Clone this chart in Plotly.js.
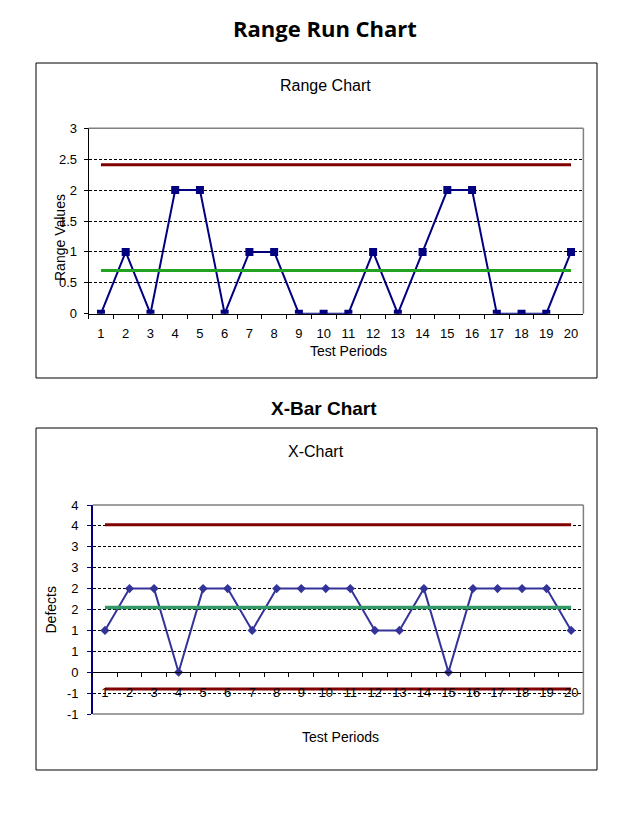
<!DOCTYPE html>
<html><head><meta charset="utf-8">
<script src="https://cdn.plot.ly/plotly-3.0.1.min.js"></script>
<style>html,body{margin:0;padding:0;background:#fff}#chart{width:640px;height:827px}</style>
</head><body><div id="chart"></div>
<script>
// ---- data ----
const periods = ['1','2','3','4','5','6','7','8','9','10','11','12','13','14','15','16','17','18','19','20'];
const rangeValues = [0,1,0,2,2,0,1,1,0,0,0,1,0,1,2,2,0,0,0,1];
const rangeUCL = 2.41;
const rangeMean = 0.7;
const defectValues = [1,2,2,0,2,2,1,2,2,2,2,1,1,2,0,2,2,2,2,1];
const defectUCL = 3.53;
const defectMean = 1.55;
const defectLCL = -0.40;
const defectTickVals = [-1,-0.5,0,0.5,1,1.5,2,2.5,3,3.5,4];
const defectTickText = ['-1','-1','0','1','1','2','2','3','3','4','4'];

const F = 'Liberation Sans, Arial, sans-serif';
const first = periods[0], last = periods[periods.length-1];

const traces = [
  {x: periods, y: rangeValues, xaxis:'x', yaxis:'y', mode:'lines+markers',
   line:{color:'#000080', width:2}, marker:{symbol:'square', size:8, color:'#000080'}},
  {x:[first,last], y:[rangeUCL,rangeUCL], xaxis:'x', yaxis:'y', mode:'lines',
   line:{color:'#800000', width:3}},
  {x:[first,last], y:[rangeMean,rangeMean], xaxis:'x', yaxis:'y', mode:'lines',
   line:{color:'#22a322', width:3}},
  {x: periods, y: defectValues, xaxis:'x2', yaxis:'y2', mode:'lines+markers',
   line:{color:'#333399', width:2}, marker:{symbol:'diamond', size:7, color:'#333399'}},
  {x:[first,last], y:[defectUCL,defectUCL], xaxis:'x2', yaxis:'y2', mode:'lines',
   line:{color:'#800000', width:3}},
  {x:[first,last], y:[defectMean,defectMean], xaxis:'x2', yaxis:'y2', mode:'lines',
   line:{color:'#339966', width:3.5}},
  {x:[first,last], y:[defectLCL,defectLCL], xaxis:'x2', yaxis:'y2', mode:'lines',
   line:{color:'#800000', width:3}}
];

const px = v => v/640, py = v => 1 - v/827;

const xCommon = {type:'category', categoryarray: periods, range:[-0.5,19.5], tickson:'boundaries',
  ticks:'outside', ticklen:4, tickcolor:'#000', showline:true, linecolor:'#000', linewidth:1,
  showgrid:false, zeroline:false, tickfont:{family:F, size:13, color:'#000'}, fixedrange:true};

const ann = (text, x, y, size, extra) => Object.assign({text, xref:'paper', yref:'paper', x:px(x), y:py(y),
  xanchor:'center', yanchor:'middle', showarrow:false, font:{family:F, size, color:'#000'}}, extra || {});

const layout = {
  width:640, height:827, margin:{l:0,r:0,t:0,b:0}, showlegend:false,
  paper_bgcolor:'#fff', plot_bgcolor:'#fff', font:{family:F, color:'#000'},
  xaxis: Object.assign({}, xCommon, {domain:[px(88.6), px(583.4)], anchor:'y', ticklabelstandoff:8}),
  yaxis: {domain:[py(313.7), py(128.3)], anchor:'x', range:[0,3], tick0:0, dtick:0.5,
    ticks:'outside', ticklen:4, tickcolor:'#000', showline:true, linecolor:'#000', linewidth:1,
    showgrid:true, gridcolor:'#000', griddash:'3px,2px', gridwidth:1, zeroline:false,
    tickfont:{family:F, size:13, color:'#000'}, ticklabelstandoff:4, fixedrange:true},
  xaxis2: Object.assign({}, xCommon, {domain:[px(92.7), px(583.4)], anchor:'free', position: py(672.3), ticklabelstandoff:8}),
  yaxis2: {domain:[py(714), py(505)], anchor:'x2', range:[-1,4], tickvals: defectTickVals, ticktext: defectTickText,
    ticks:'outside', ticklen:4, tickcolor:'#000080', showline:true, linecolor:'#000080', linewidth:1.5,
    showgrid:true, gridcolor:'#000', griddash:'3px,2px', gridwidth:1, zeroline:false,
    tickfont:{family:F, size:13, color:'#000'}, ticklabelstandoff:6, fixedrange:true},
  shapes: [
    {type:'rect', xref:'paper', yref:'paper', x0:px(36), x1:px(597), y0:py(378), y1:py(63), line:{color:'#000', width:1}},
    {type:'rect', xref:'paper', yref:'paper', x0:px(36), x1:px(597), y0:py(770), y1:py(428), line:{color:'#000', width:1}},
    {type:'line', xref:'paper', yref:'paper', x0:px(88.6), x1:px(583.4), y0:py(128.3), y1:py(128.3), line:{color:'#808080', width:1.5}},
    {type:'line', xref:'paper', yref:'paper', x0:px(583.4), x1:px(583.4), y0:py(313.7), y1:py(128.3), line:{color:'#808080', width:1.5}},
    {type:'line', xref:'paper', yref:'paper', x0:px(92.7), x1:px(583.4), y0:py(505), y1:py(505), line:{color:'#808080', width:1.5}},
    {type:'line', xref:'paper', yref:'paper', x0:px(583.4), x1:px(583.4), y0:py(714), y1:py(505), line:{color:'#808080', width:1.5}},
    {type:'line', xref:'paper', yref:'paper', x0:px(92.7), x1:px(583.4), y0:py(714), y1:py(714), line:{color:'#808080', width:1.5}}
  ],
  annotations: [
    ann('Range Run Chart', 325, 28, 22, {font:{family:'Open Sans, sans-serif', size:22, weight:'bold', color:'#000'}}),
    ann('X-Bar Chart', 323.5, 408, 19, {font:{family:F, size:19, weight:'bold', color:'#000'}}),
    ann('Range Chart', 325, 85, 16),
    ann('X-Chart', 316, 451, 16),
    ann('Test Periods', 348, 351, 14),
    ann('Test Periods', 340, 737, 14),
    ann('Range Values', 60, 238, 14, {textangle:-90}),
    ann('Defects', 50.5, 610, 14, {textangle:-90})
  ]
};

Plotly.newPlot('chart', traces, layout, {staticPlot:true, displayModeBar:false});
</script>
</body></html>
